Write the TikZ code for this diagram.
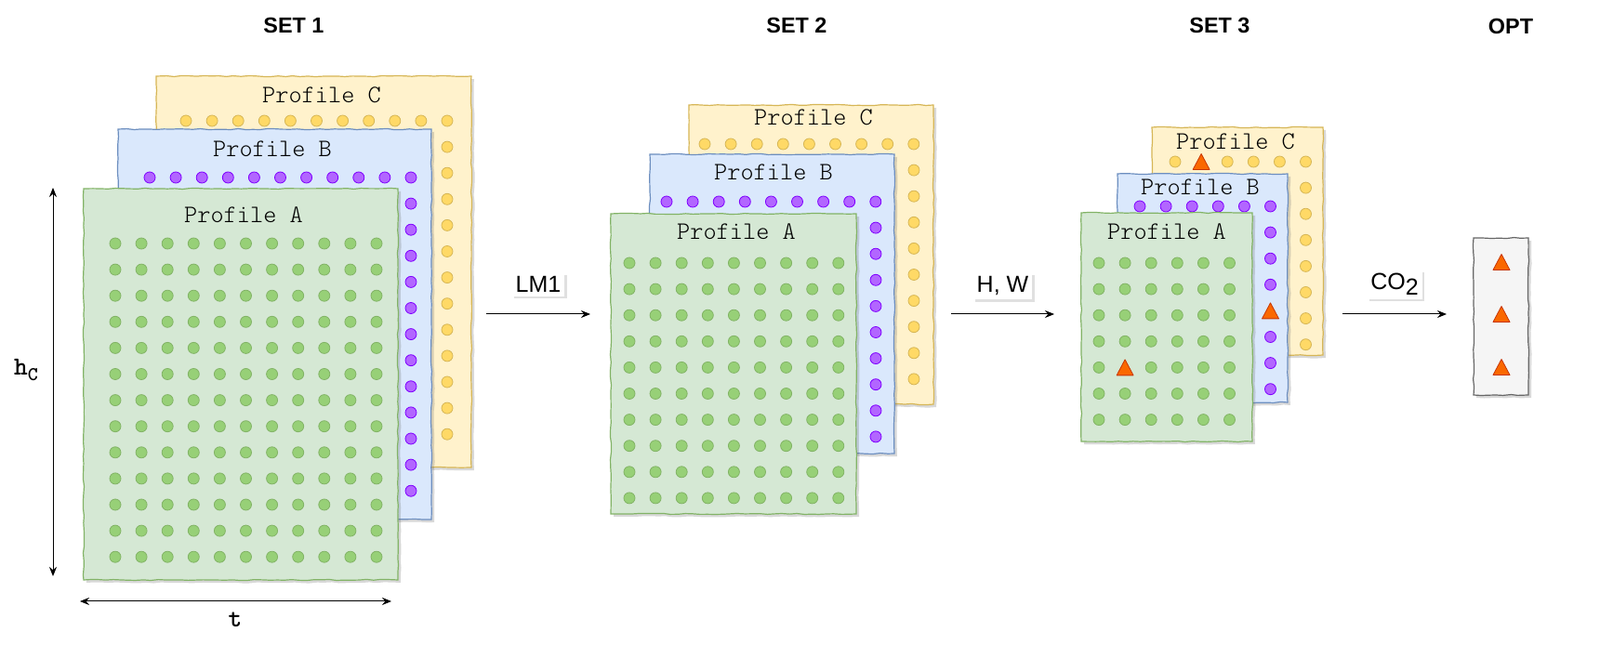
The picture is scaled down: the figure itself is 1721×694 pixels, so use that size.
\documentclass[tikz,border=0pt]{standalone}
\usepackage{fontspec}
\setmainfont{Liberation Sans}
\newfontfamily\lightmono{Latin Modern Mono Light}
\usetikzlibrary{arrows.meta,shadows,decorations.pathmorphing}
\definecolor{gfill}{HTML}{D5E8D4}
\definecolor{gline}{HTML}{82B366}
\definecolor{gdot}{HTML}{97D077}
\definecolor{bfill}{HTML}{DAE8FC}
\definecolor{bline}{HTML}{6C8EBF}
\definecolor{pdot}{HTML}{B266FF}
\definecolor{pline}{HTML}{7F00FF}
\definecolor{yfill}{HTML}{FFF2CC}
\definecolor{yline}{HTML}{D6B656}
\definecolor{ydot}{HTML}{FFD966}
\definecolor{trifill}{HTML}{FA6800}
\definecolor{triline}{HTML}{C73500}
\definecolor{ofill}{HTML}{F5F5F5}
\definecolor{oline}{HTML}{666666}
\newcommand\mypanel[6]{\node[panel,#6,minimum width={(#4-#2)*0.5pt},minimum height={(#5-#3)*0.5pt}] (#1) at (#2,#3) {};}
\newcommand\mytri[2]{\filldraw[tri] (#1-9,#2+8.5) -- (#1+9,#2+8.5) -- (#1,#2-8.5) -- cycle;}
\begin{document}
\begin{tikzpicture}[x=0.5pt,y=-0.5pt,
  panel/.style={draw,anchor=north west,inner sep=0pt,outer sep=0pt,line width=0.6pt,
    decorate,decoration={random steps,segment length=4pt,amplitude=0.3pt},
    drop shadow={shadow xshift=1.5pt,shadow yshift=-1.5pt,opacity=0.25,fill=black!60}},
  gpanel/.style={fill=gfill,draw=gline},
  bpanel/.style={fill=bfill,draw=bline},
  ypanel/.style={fill=yfill,draw=yline},
  opanel/.style={fill=ofill,draw=oline},
  gdotst/.style={fill=gdot,draw=gline,line width=0.4pt},
  pdotst/.style={fill=pdot,draw=pline,line width=0.4pt},
  ydotst/.style={fill=ydot,draw=yline,line width=0.4pt},
  tri/.style={fill=trifill,draw=triline,line width=0.4pt,line join=round},
  proflabel/.style={font=\lightmono\fontsize{13.5}{15}\selectfont,inner sep=0pt},
  title/.style={font=\bfseries\fontsize{11.7}{14}\selectfont,inner sep=0pt},
  edgelabel/.style={font=\fontsize{12.5}{15}\selectfont,fill=white,inner sep=2pt,
    drop shadow={shadow xshift=1.2pt,shadow yshift=-1.2pt,opacity=0.2,fill=black!60}},
  dimlabel/.style={font=\ttfamily\bfseries\fontsize{14}{16}\selectfont,inner sep=0pt},
  conn/.style={-{Stealth[length=5pt,width=4pt]},line width=0.5pt},
  dimarrow/.style={{Stealth[length=5pt,width=4pt]}-{Stealth[length=5pt,width=4pt]},line width=0.5pt}
]
\useasboundingbox[fill=white] (0,0) rectangle (1721,694);

% titles
\node[title] (t1) at (316,27) {SET 1};
\node[title] (t2) at (857,27) {SET 2};
\node[title] (t3) at (1312,27) {SET 3};
\node[title] (t4) at (1625,28) {OPT};

% ---------------- SET 1 ----------------
\mypanel{s1c}{168}{82}{507}{503}{ypanel}
\node[proflabel] (s1cl) at (346,102) {Profile C};
\foreach \i in {0,...,10} \filldraw[ydotst] (200+28.1*\i,130) circle (6);
\foreach \j in {1,...,12} \filldraw[ydotst] (481,130+28.1*\j) circle (6);

\mypanel{s1b}{127}{139}{464}{559}{bpanel}
\node[proflabel] (s1bl) at (293,160) {Profile B};
\foreach \i in {0,...,10} \filldraw[pdotst] (161+28.1*\i,191) circle (6);
\foreach \j in {1,...,12} \filldraw[pdotst] (442,191+28.1*\j) circle (6);

\mypanel{s1a}{90}{203}{428}{624}{gpanel}
\node[proflabel] (s1al) at (262,231) {Profile A};
\foreach \i in {0,...,10} \foreach \j in {0,...,12}
  \filldraw[gdotst] (124+28.1*\i,262+28.1*\j) circle (6);

% dimensions
\coordinate (hct) at (57,202);
\coordinate (hcb) at (57,620);
\draw[dimarrow] (hct) -- (hcb);
\node[dimlabel] (hcl) at (28,398) {h\raisebox{-3pt}{\fontsize{10.5}{11}\selectfont C}};
\coordinate (tl) at (86,647);
\coordinate (tr) at (421,647);
\draw[dimarrow] (tl) -- (tr);
\node[dimlabel] (tlab) at (253,667) {t};

% ---------------- SET 2 ----------------
\mypanel{s2c}{741}{113}{1004}{435}{ypanel}
\node[proflabel] (s2cl) at (875,126) {Profile C};
\foreach \i in {0,...,8} \filldraw[ydotst] (758+28.1*\i,155) circle (6);
\foreach \j in {1,...,9} \filldraw[ydotst] (983,155+28.1*\j) circle (6);

\mypanel{s2b}{699}{166}{962}{488}{bpanel}
\node[proflabel] (s2bl) at (832,185) {Profile B};
\foreach \i in {0,...,8} \filldraw[pdotst] (717+28.1*\i,217) circle (6);
\foreach \j in {1,...,9} \filldraw[pdotst] (942,217+28.1*\j) circle (6);

\mypanel{s2a}{657}{230}{921}{553}{gpanel}
\node[proflabel] (s2al) at (792,249) {Profile A};
\foreach \i in {0,...,8} \foreach \j in {0,...,9}
  \filldraw[gdotst] (677+28.1*\i,283+28.1*\j) circle (6);

% ---------------- SET 3 ----------------
\mypanel{s3c}{1239}{137}{1423}{382}{ypanel}
\node[proflabel] (s3cl) at (1329,152) {Profile C};
\foreach \i in {0,2,3,4,5} \filldraw[ydotst] (1264+28.1*\i,174) circle (6);
\mytri{1292.1}{174}
\foreach \j in {1,...,7} \filldraw[ydotst] (1404.5,174+28.1*\j) circle (6);

\mypanel{s3b}{1202}{187}{1385}{433}{bpanel}
\node[proflabel] (s3bl) at (1291,201) {Profile B};
\foreach \i in {0,...,5} \filldraw[pdotst] (1226+28.1*\i,222) circle (6);
\foreach \j in {1,2,3,5,6,7} \filldraw[pdotst] (1366.5,222+28.1*\j) circle (6);
\mytri{1366.5}{334.4}

\mypanel{s3a}{1163}{229}{1347}{475}{gpanel}
\node[proflabel] (s3al) at (1255,249) {Profile A};
\foreach \i in {0,...,5} \foreach \j in {0,...,6} {
  \ifnum\i=1 \ifnum\j=4 \else \filldraw[gdotst] (1182+28.1*\i,283+28.1*\j) circle (6); \fi
  \else \filldraw[gdotst] (1182+28.1*\i,283+28.1*\j) circle (6); \fi }
\mytri{1210.1}{395.4}

% ---------------- OPT ----------------
\mypanel{opt}{1585}{256}{1644}{425}{opanel}
\mytri{1615}{282}
\mytri{1615}{338}
\mytri{1615}{395}

% ---------------- connectors ----------------
\coordinate (a1s) at (523,338);
\coordinate (a1e) at (635,338);
\draw[conn] (a1s) -- node[edgelabel,midway,yshift=16pt] (lm1) {LM1} (a1e);
\coordinate (a2s) at (1023,338);
\coordinate (a2e) at (1134,338);
\draw[conn] (a2s) -- node[edgelabel,midway,yshift=15pt] (hw) {H, W} (a2e);
\coordinate (a3s) at (1444,338);
\coordinate (a3e) at (1556,338);
\draw[conn] (a3s) -- node[edgelabel,midway,yshift=16pt] (co2) {CO\raisebox{-3pt}{2}} (a3e);
\end{tikzpicture}
\end{document}
